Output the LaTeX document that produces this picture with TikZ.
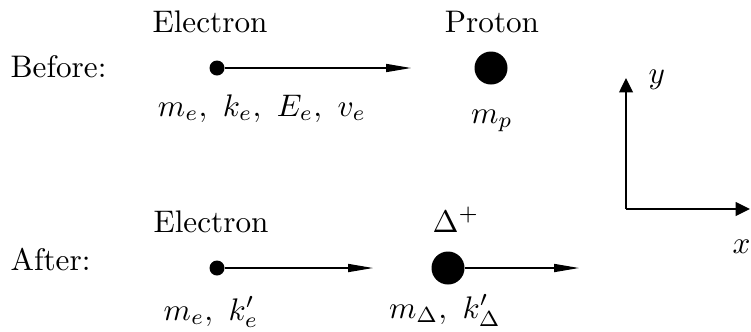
\documentclass[tikz,border=0pt]{standalone}
\usepackage{tikz}
\usetikzlibrary{arrows.meta}

\begin{document}
\begin{tikzpicture}[
      x=0.3205pt, y=0.3205pt,
      bigdot/.style={circle, fill=black, inner sep=0pt, minimum size=33*0.3205pt},
      smalldot/.style={circle, fill=black, inner sep=0pt, minimum size=15*0.3205pt},
      txt/.style={inner sep=0pt, anchor=base},
      arrow/.style={-{Triangle[length=8pt, width=2.6pt]}, line width=0.4pt},
      axis/.style={-{Triangle[length=4.6pt, width=4.4pt]}, line width=0.45pt}
    ]
      \useasboundingbox (0,0) rectangle (751,-331);

      % before the collision
      \node[txt, anchor=base west] (before) at (10,-77) {Before:};
      \node[smalldot] (e1) at (217,-68) {};
      \coordinate (e1tip) at (411,-68);
      \node[bigdot] (p1) at (491,-68) {};
      \node[txt] (e1name) at (210,-32) {Electron};
      \node[txt] (p1name) at (492,-32) {Proton};
      \node[txt] (e1vars) at (262,-116) {$m_e,\ k_e,\ E_e,\ v_e$};
      \node[txt] (p1vars) at (492,-123) {$m_p$};
      \draw[arrow] (e1) -- (e1tip);

      % after the collision
      \node[txt, anchor=base west] (after) at (10,-270) {After:};
      \node[smalldot] (e2) at (217,-268) {};
      \coordinate (e2tip) at (373,-268);
      \node[bigdot] (d2) at (448,-268) {};
      \coordinate (d2tip) at (579,-268);
      \node[txt] (e2name) at (211,-232) {Electron};
      \node[txt] (d2name) at (456,-232) {$\Delta^+$};
      \node[txt] (e2vars) at (211,-320) {$m_e,\ k'_e$};
      \node[txt] (d2vars) at (445,-318) {$m_\Delta,\ k'_\Delta$};
      \draw[arrow] (e2) -- (e2tip);
      \draw[arrow] (d2) -- (d2tip);

      % axes
      \coordinate (o) at (626,-209);
      \coordinate (ytip) at (626,-78);
      \coordinate (xtip) at (750,-209);
      \draw[axis] (o) -- (ytip);
      \draw[axis] (o) -- (xtip);
      \node[txt, anchor=base west] (ylab) at (648,-83) {$y$};
      \node[txt, anchor=base west] (xlab) at (732,-253) {$x$};
    \end{tikzpicture}
\end{document}
